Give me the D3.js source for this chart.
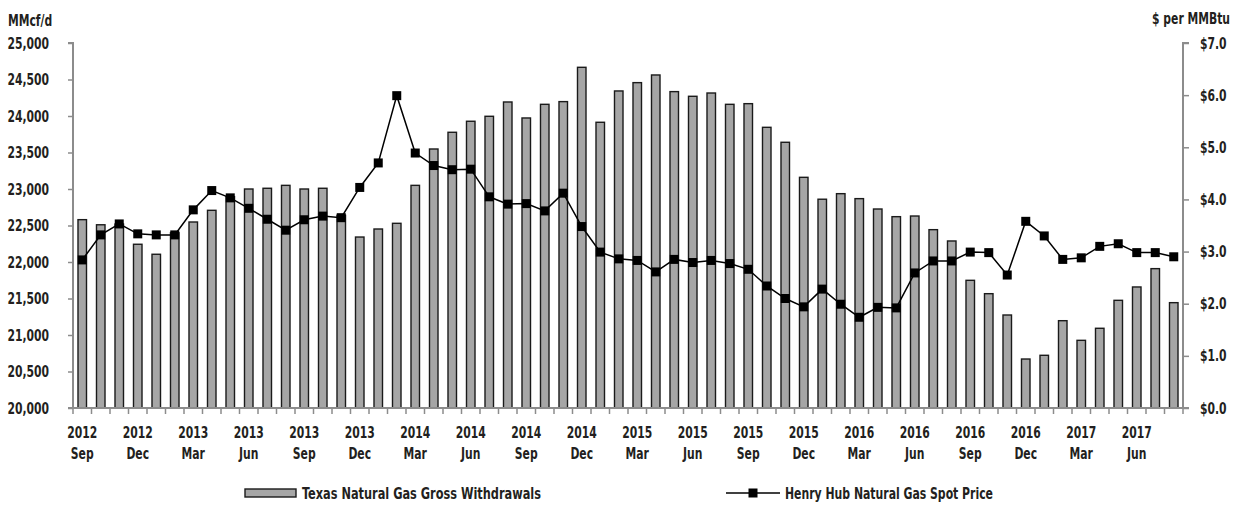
<!DOCTYPE html>
<html>
<head>
<meta charset="utf-8">
<script src="https://cdn.jsdelivr.net/npm/d3@7"></script>
<style>
  html, body { margin: 0; padding: 0; background: #fff; }
  svg { display: block; }
  text { font-family: 'Liberation Sans Narrow', 'DejaVu Sans Condensed', 'Roboto', sans-serif; font-weight: bold; fill: #231f20; }
</style>
</head>
<body>
<svg id="chart" width="1235" height="508"></svg>
<script>
const monthNames = ["Jan","Feb","Mar","Apr","May","Jun","Jul","Aug","Sep","Oct","Nov","Dec"];
const startYear = 2012, startMonth = 8; // Sep 2012
const categories = d3.range(60).map(i => {
  const m = (startMonth + i) % 12;
  const y = startYear + Math.floor((startMonth + i) / 12);
  return { year: String(y), month: monthNames[m] };
});

const withdrawals = [
  22580, 22510, 22520, 22243, 22106, 22400, 22548, 22708, 22895, 23000, 23010, 23050,
  23000, 23010, 22640, 22342, 22452, 22530, 23050, 23548, 23777, 23928, 23996, 24192,
  23973, 24160, 24197, 24667, 23914, 24343, 24457, 24562, 24334, 24270, 24315, 24160,
  24169, 23845, 23640, 23160, 22860, 22936, 22868, 22726, 22621, 22630, 22443, 22288,
  21749, 21566, 21274, 20671, 20722, 21196, 20927, 21092, 21475, 21658, 21909, 21443
];
const prices = [
  2.84, 3.32, 3.53, 3.34, 3.32, 3.32, 3.80, 4.17, 4.03, 3.83, 3.62, 3.41,
  3.61, 3.68, 3.65, 4.23, 4.70, 5.99, 4.89, 4.65, 4.57, 4.58, 4.05, 3.91,
  3.92, 3.78, 4.12, 3.48, 2.99, 2.86, 2.83, 2.61, 2.85, 2.79, 2.83, 2.77,
  2.66, 2.34, 2.10, 1.94, 2.28, 1.99, 1.74, 1.93, 1.92, 2.59, 2.82, 2.82,
  2.99, 2.98, 2.55, 3.58, 3.30, 2.85, 2.88, 3.10, 3.15, 2.98, 2.98, 2.90
];
const leftTicks = [20000, 20500, 21000, 21500, 22000, 22500, 23000, 23500, 24000, 24500, 25000];
const rightTicks = [0, 1, 2, 3, 4, 5, 6, 7];
const seriesNames = ["Texas Natural Gas Gross Withdrawals", "Henry Hub Natural Gas Spot Price"];
const leftUnit = "MMcf/d", rightUnit = "$ per MMBtu";

const svg = d3.select("#chart");
const L = 73, R = 1183, T = 43, B = 408;
const axisColor = "#8c8c8c";
const FS = 16, SX = 0.75;
const ids = categories.map((d, i) => i);

// horizontally condense text around its own x anchor
function squeeze(sel) {
  sel.each(function() {
    const t = d3.select(this);
    const xv = +(t.attr("x") || 0);
    t.attr("transform", `translate(${xv * (1 - SX)},0) scale(${SX},1)`);
  });
}

const x = d3.scaleBand().domain(ids).range([L, R]).paddingInner(0.54).paddingOuter(0.27);
const yL = d3.scaleLinear().domain([20000, 25000]).range([B, T]);
const yR = d3.scaleLinear().domain([0, 7]).range([B, T]);

// bars
svg.append("g").selectAll("rect").data(withdrawals).join("rect")
  .attr("x", (d, i) => x(i))
  .attr("y", d => yL(d))
  .attr("width", x.bandwidth())
  .attr("height", d => B - yL(d))
  .attr("fill", "#a6a6a6")
  .attr("stroke", "#1a1a1a")
  .attr("stroke-width", 1.4);

// axes
const fmt = d3.format(",");
const gL = svg.append("g").attr("transform", `translate(${L},0)`)
  .call(d3.axisLeft(yL).tickValues(leftTicks).tickFormat(fmt).tickSize(5).tickPadding(19));
const gR = svg.append("g").attr("transform", `translate(${R},0)`)
  .call(d3.axisRight(yR).tickValues(rightTicks).tickFormat(d => "$" + d3.format(".1f")(d)).tickSize(6).tickPadding(11));
[gL, gR].forEach(g => {
  g.select(".domain").attr("stroke", axisColor).attr("stroke-width", 2);
  g.selectAll(".tick line").attr("stroke", axisColor).attr("stroke-width", 1.5);
  g.selectAll(".tick text").attr("font-size", FS).attr("font-family", null).call(squeeze);
});
gL.select(".domain").attr("d", `M-5,${T}H0V${B}H-5`);
gR.select(".domain").attr("d", `M6,${T}H0V${B}H6`);

// x axis baseline + ticks at band boundaries
const bounds = d3.range(61).map(i => L + i * (R - L) / 60);
svg.append("line").attr("x1", L - 5).attr("x2", R + 6).attr("y1", B).attr("y2", B)
  .attr("stroke", axisColor).attr("stroke-width", 2);
svg.append("g").selectAll("line").data(bounds).join("line")
  .attr("x1", d => d).attr("x2", d => d).attr("y1", B).attr("y2", B + 6)
  .attr("stroke", axisColor).attr("stroke-width", 1.5);

const xl = svg.append("g").selectAll("g").data(categories.filter((d, i) => i % 3 === 0)).join("g");
xl.append("text")
  .attr("x", (d) => x(categories.indexOf(d)) + x.bandwidth() / 2)
  .attr("y", 438).attr("text-anchor", "middle").attr("font-size", FS)
  .text(d => d.year).call(squeeze);
xl.append("text")
  .attr("x", (d) => x(categories.indexOf(d)) + x.bandwidth() / 2)
  .attr("y", 459).attr("text-anchor", "middle").attr("font-size", FS)
  .text(d => d.month).call(squeeze);

// line
const line = d3.line().x((d, i) => x(i) + x.bandwidth() / 2).y(d => yR(d));
svg.append("path").datum(prices).attr("d", line)
  .attr("fill", "none").attr("stroke", "#000").attr("stroke-width", 1.5);
const ms = 9;
svg.append("g").selectAll("rect").data(prices).join("rect")
  .attr("x", (d, i) => x(i) + x.bandwidth() / 2 - ms / 2)
  .attr("y", d => yR(d) - ms / 2)
  .attr("width", ms).attr("height", ms).attr("fill", "#000");

// unit labels
svg.append("text").attr("x", 8).attr("y", 26).attr("font-size", FS).text(leftUnit).call(squeeze);
svg.append("text").attr("x", 1230).attr("y", 24).attr("text-anchor", "end").attr("font-size", FS).text(rightUnit).call(squeeze);

// legend
const lg = svg.append("g");
lg.append("rect").attr("x", 245).attr("y", 489).attr("width", 51).attr("height", 8)
  .attr("fill", "#a6a6a6").attr("stroke", "#1a1a1a").attr("stroke-width", 1.4);
lg.append("text").attr("x", 302).attr("y", 499).attr("font-size", FS)
  .attr("textLength", 239).attr("lengthAdjust", "spacingAndGlyphs").text(seriesNames[0]);
lg.append("line").attr("x1", 726).attr("x2", 780).attr("y1", 493).attr("y2", 493)
  .attr("stroke", "#000").attr("stroke-width", 1.5);
lg.append("rect").attr("x", 753 - ms / 2).attr("y", 493 - ms / 2).attr("width", ms).attr("height", ms).attr("fill", "#000");
lg.append("text").attr("x", 785).attr("y", 499).attr("font-size", FS)
  .attr("textLength", 208).attr("lengthAdjust", "spacingAndGlyphs").text(seriesNames[1]);
</script>
</body>
</html>
